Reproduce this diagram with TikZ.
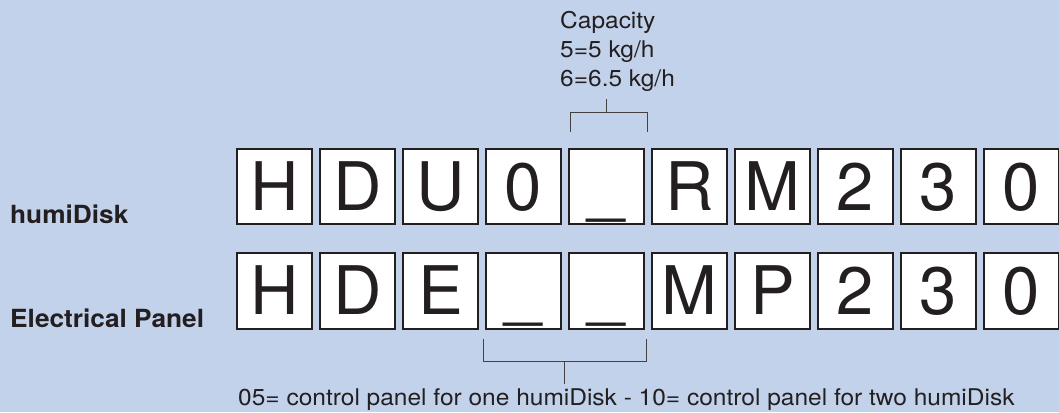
\documentclass[tikz,border=0pt]{standalone}
\usepackage{fontspec}
\setmainfont{TeX Gyre Heros}
\newfontfamily\widesans[FakeStretch=1.05]{TeX Gyre Heros}
\newfontfamily\notesans[FakeStretch=1.065]{TeX Gyre Heros}
\usetikzlibrary{positioning}
\definecolor{backdrop}{HTML}{C3D2EB}
\definecolor{ink}{HTML}{231F20}
\tikzset{
  charbox/.style={
    draw=ink, line width=1.8pt, fill=white, minimum size=75.5pt, inner sep=0pt,
    text=ink, font=\fontsize{67}{67}\selectfont, text height=48pt, text depth=0pt,
  },
  rowlbl/.style={font=\widesans\bfseries\fontsize{25}{30}\selectfont, text=ink,
                 inner sep=0pt, anchor=base west},
  note/.style={font=\notesans\fontsize{23}{29}\selectfont, text=ink,
               inner sep=0pt, align=left},
  bracket/.style={draw=ink!85, line width=1.1pt},
}

\begin{document}
\begin{tikzpicture}[x=1pt, y=1pt]

  \fill[backdrop] (0,0) rectangle (1059,412);
  \useasboundingbox (0,0) rectangle (1059,412);

  % the two order codes
  \foreach \i/\c in {1/H, 2/D, 3/U, 4/0, 5/\_, 6/R, 7/M, 8/2, 9/3, 10/0} {
    \node[charbox] (t\i) at ({274.5+83*(\i-1)},225.5) {\c};
  }
  \foreach \i/\c in {1/H, 2/D, 3/E, 4/\_, 5/\_, 6/M, 7/P, 8/2, 9/3, 10/0} {
    \node[charbox] (b\i) at ({274.5+83*(\i-1)},121) {\c};
  }

  \node[rowlbl] (humi) at (10,188) {humiDisk};
  \node[rowlbl] (panel) at (10,84) {Electrical Panel};

  % capacity digit
  \node[note, anchor=base west] (cap) at (560,325)
    {Capacity\\5=5 kg/h\\6=6.5 kg/h};
  \draw[bracket] ([shift={(2.5,16)}]t5.north west) -- ++(0,19)
    -| ([shift={(2.5,16)}]t5.north east);
  \coordinate (capjoin) at ([yshift=35]t5.north);
  \draw[bracket] (capjoin) -- ++(0,14);

  % panel digits
  \node[note, anchor=base west] (pnote) at (238,7)
    {05= control panel for one humiDisk - 10= control panel for two humiDisk};
  \draw[bracket] ([shift={(-1.5,-9.5)}]b4.south west) -- ++(0,-22)
    -| ([shift={(1,-9.5)}]b5.south east);
  \coordinate (pjoin) at ([shift={(2.5,-31.5)}]b4.south east);
  \draw[bracket] (pjoin) -- ++(0,-23);

\end{tikzpicture}
\end{document}
